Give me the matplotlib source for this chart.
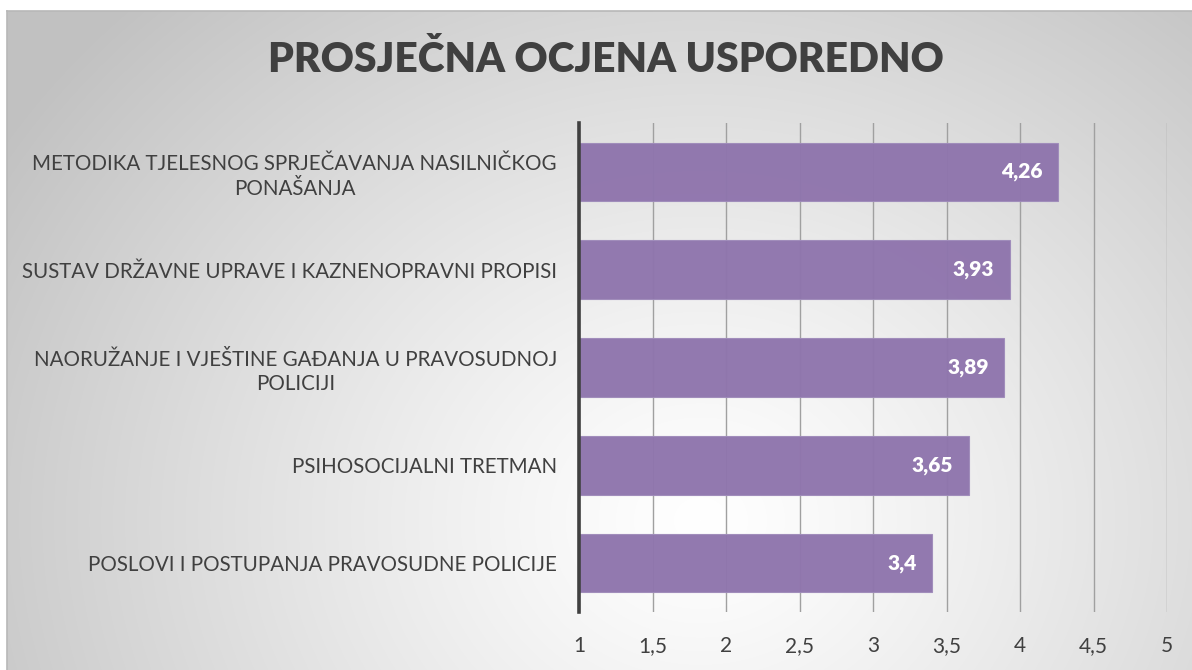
import numpy as np
import matplotlib
matplotlib.use("Agg")
import matplotlib.pyplot as plt
from matplotlib.transforms import ScaledTranslation

categories = [
    "METODIKA TJELESNOG SPRJE\u010cAVANJA NASILNI\u010cKOG\nPONA\u0160ANJA",
    "SUSTAV DR\u017dAVNE UPRAVE I KAZNENOPRAVNI PROPISI",
    "NAORU\u017dANJE I VJE\u0160TINE GA\u0110ANJA U PRAVOSUDNOJ\nPOLICIJI",
    "PSIHOSOCIJALNI TRETMAN",
    "POSLOVI I POSTUPANJA PRAVOSUDNE POLICIJE",
]
values = [4.26, 3.93, 3.89, 3.65, 3.4]
value_labels = ["4,26", "3,93", "3,89", "3,65", "3,4"]
xticks = [1, 1.5, 2, 2.5, 3, 3.5, 4, 4.5, 5]
xtick_labels = ["1", "1,5", "2", "2,5", "3", "3,5", "4", "4,5", "5"]
title = "PROSJE\u010cNA OCJENA USPOREDNO"

FONT = ["Lato", "DejaVu Sans"]
W, H = 1192, 670
fig = plt.figure(figsize=(W / 100, H / 100), dpi=100)
fig.patch.set_facecolor("white")

# radial gradient background
bg = fig.add_axes([7 / W, 0, 1 - 7 / W, 1 - 11 / H])
bg.set_axis_off()
yy, xx = np.mgrid[11:H, 7:W]
cx, cy = 700, 520
d = np.sqrt((xx - cx) ** 2 + ((yy - cy) * 1.15) ** 2)
t = np.clip(d / 820, 0, 1)
lo = 0.76
g = 1 - (1 - lo) * t ** 1.2
img = np.dstack([g, g, g])
bg.imshow(img, aspect="auto", extent=[0, 1, 0, 1], origin="upper")
bg.set_xlim(0, 1)
bg.set_ylim(0, 1)
bg.plot([0, 0], [0, 1], color="#b8b8b8", lw=1.2, transform=bg.transAxes, clip_on=False)
bg.plot([0, 1], [1, 1], color="#b8b8b8", lw=1.2, transform=bg.transAxes, clip_on=False)

ax = fig.add_axes([579 / W, 1 - 612 / H, (1167 - 579) / W, (612 - 123) / H])
ax.patch.set_alpha(0)
y = np.arange(len(categories))
ax.barh(y, [v - 1 for v in values], left=1, height=0.6, color="#8f75ad", alpha=0.97,
        edgecolor="#a08cbb", linewidth=0.8, zorder=3)
ax.set_ylim(len(categories) - 0.5, -0.5)
ax.set_xlim(1, 5)
ax.set_xticks(xticks)
ax.set_xticklabels(xtick_labels)
ax.set_yticks(y)
ax.set_yticklabels(categories, ha="center", multialignment="center")
for lab in ax.get_yticklabels():
    lab.set_fontfamily(FONT)
    lab.set_fontsize(14.8)
    lab.set_color("#404040")
    lab.set_linespacing(1.3)
ax.tick_params(axis="y", length=0, pad=0)
for lab in ax.get_xticklabels():
    lab.set_fontfamily(FONT)
    lab.set_fontsize(15)
    lab.set_color("#404040")
ax.tick_params(axis="x", length=0, pad=17)
ax.grid(axis="x", color="#a0a0a0", lw=1.0, zorder=0)
for s in ["top", "right", "bottom"]:
    ax.spines[s].set_visible(False)
ax.spines["left"].set_color("#404040")
ax.spines["left"].set_linewidth(2.6)
ax.spines["left"].set_zorder(4)

for yi, v, lab in zip(y, values, value_labels):
    ax.annotate(lab, (v, yi), xytext=(-11, 0), textcoords="offset points", ha="right",
                va="center", color="white", fontsize=15, fontweight="heavy",
                family=FONT, zorder=5)

ttl = fig.text(606 / W, 1 - 60 / H, title, ha="center", va="center", fontsize=29.3,
               fontweight="heavy", color="#404040", family=FONT)

fig.canvas.draw()
r = fig.canvas.get_renderer()
for lab in ax.get_yticklabels():
    bb = lab.get_window_extent(r)
    shift = 557 - bb.x1
    lab.set_transform(lab.get_transform() + ScaledTranslation(shift / 100, 0, fig.dpi_scale_trans))

fig.savefig("out.png", dpi=100)
